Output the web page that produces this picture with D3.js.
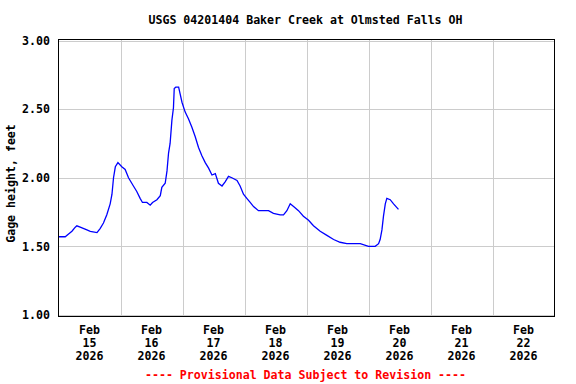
<!DOCTYPE html>
<html>
<head>
<meta charset="utf-8">
<script src="https://cdn.jsdelivr.net/npm/d3@7"></script>
<style>
  body { margin: 0; background: #fff; }
  text { font-family: "DejaVu Sans Mono", "Liberation Mono", monospace; font-weight: bold; }
</style>
</head>
<body>
<svg id="chart"></svg>
<script>
// hours since Feb 15 2026 00:00 and gage height (ft)
const hours = [0, 2.6, 3.9, 5.2, 6.5, 7.1, 8.4, 11.0, 12.3, 14.9, 16.1, 17.4, 18.7, 20.0, 20.7,
  21.3, 22.0, 23.0, 24.5, 25.8, 27.1, 29.0, 30.3, 31.6, 32.5, 34.2, 35.5, 36.4, 38.1, 39.4,
  40.0, 41.3, 42.0, 42.6, 43.2, 43.9, 44.5, 44.8, 45.4, 46.5, 47.1, 47.8, 49.0, 50.3, 51.6,
  52.9, 54.2, 55.5, 56.8, 58.1, 59.4, 60.7, 61.9, 63.3, 64.5, 65.8, 67.1, 69.1, 70.3, 71.6,
  72.9, 74.2, 75.5, 77.4, 79.4, 81.3, 83.2, 85.8, 87.1, 88.4, 89.7, 91.0, 92.9, 94.8, 96.8,
  98.7, 101.3, 103.9, 106.5, 109.0, 111.6, 116.8, 120.0, 122.6, 123.9, 124.5, 125.2, 125.8,
  126.5, 127.1, 128.4, 129.7, 131.6]
const gageFt = [1.57, 1.57, 1.59, 1.61, 1.64, 1.65, 1.64, 1.62, 1.61, 1.60, 1.63, 1.67, 1.73, 1.81, 1.88,
  2.00, 2.08, 2.11, 2.08, 2.06, 2.00, 1.94, 1.90, 1.85, 1.82, 1.82, 1.80, 1.82, 1.84, 1.87,
  1.93, 1.96, 2.05, 2.18, 2.25, 2.42, 2.51, 2.65, 2.66, 2.66, 2.61, 2.55, 2.48, 2.43, 2.37,
  2.30, 2.22, 2.16, 2.11, 2.07, 2.02, 2.03, 1.96, 1.94, 1.97, 2.01, 2.00, 1.98, 1.94, 1.88,
  1.85, 1.82, 1.79, 1.76, 1.76, 1.76, 1.74, 1.73, 1.73, 1.76, 1.81, 1.79, 1.76, 1.72, 1.69,
  1.65, 1.61, 1.58, 1.55, 1.53, 1.52, 1.52, 1.50, 1.50, 1.52, 1.55, 1.62, 1.72,
  1.81, 1.85, 1.84, 1.81, 1.77]
const yTicks = [1.0, 1.5, 2.0, 2.5, 3.0]
const dayLabels = [15, 16, 17, 18, 19, 20, 21, 22]

const title = 'USGS 04201404 Baker Creek at Olmsted Falls OH'
const yTitle = 'Gage height, feet'
const footer = '---- Provisional Data Subject to Revision ----'

const w = 576
const h = 384
const box = { left: 58, right: 554, top: 39, bottom: 316 }

const start = new Date(2026, 1, 15)
const end = new Date(2026, 1, 23)
const data = hours.map((hr, i) => ({ date: new Date(start.getTime() + hr * 3600e3), value: gageFt[i] }))

const svg = d3.select('#chart')
  .attr('width', w)
  .attr('height', h)

const xScale = d3.scaleTime()
  .domain([start, end])
  .range([box.left + 0.5, box.right + 0.5])

const yScale = d3.scaleLinear()
  .domain([1, 3])
  .range([315, 40.5])

// plot background
svg.append('rect')
  .attr('x', box.left + 0.5).attr('y', box.top + 0.5)
  .attr('width', box.right - box.left).attr('height', box.bottom - box.top)
  .attr('fill', '#fff')

// gridlines
const grid = svg.append('g').attr('stroke', '#cccccc').attr('stroke-width', 1)
grid.selectAll('.hg').data(yTicks).join('line')
  .attr('x1', box.left).attr('x2', box.right)
  .attr('y1', d => Math.round(yScale(d)) + 0.5).attr('y2', d => Math.round(yScale(d)) + 0.5)
grid.selectAll('.vg').data(d3.timeDay.range(d3.timeDay.offset(start, 1), end)).join('line')
  .attr('x1', d => Math.round(xScale(d)) + 0.5).attr('x2', d => Math.round(xScale(d)) + 0.5)
  .attr('y1', box.top).attr('y2', box.bottom)

// data line
const line = d3.line()
  .x(d => xScale(d.date))
  .y(d => yScale(d.value))

svg.append('path')
  .datum(data)
  .attr('d', line)
  .attr('fill', 'none')
  .attr('stroke', '#0000ff')
  .attr('stroke-width', 1.3)

// border
svg.append('rect')
  .attr('x', box.left + 0.5).attr('y', box.top + 0.5)
  .attr('width', box.right - box.left).attr('height', box.bottom - box.top)
  .attr('fill', 'none')
  .attr('stroke', '#000')
  .attr('stroke-width', 1)

// y axis labels
const yAxis = d3.axisLeft(yScale)
  .tickValues(yTicks)
  .tickFormat(d3.format('.2f'))
  .tickSize(0)
  .tickPadding(0)
svg.append('g')
  .attr('transform', 'translate(50, 0)')
  .call(yAxis)
  .call(g => g.select('.domain').remove())
  .selectAll('text')
    .attr('font-family', '"DejaVu Sans Mono", monospace')
    .attr('font-weight', 'bold')
    .attr('font-size', 11.6)
    .attr('fill', '#000')

// x axis labels, three lines centered on each day
const xl = svg.append('g')
  .selectAll('text')
  .data(dayLabels)
  .join('text')
    .attr('text-anchor', 'middle')
    .attr('font-size', 11.6)
    .attr('fill', '#000')
xl.each(function (d) {
  const x = xScale(new Date(2026, 1, d, 12))
  const t = d3.select(this)
  ;['Feb', String(d), '2026'].forEach((s, i) => {
    t.append('tspan').attr('x', x).attr('y', 334 + i * 13).text(s)
  })
})

// titles
svg.append('text')
  .attr('x', 305.5).attr('y', 24)
  .attr('text-anchor', 'middle')
  .attr('font-size', 11.6)
  .text(title)

svg.append('text')
  .attr('transform', 'translate(15, 183.5) rotate(-90)')
  .attr('text-anchor', 'middle')
  .attr('font-size', 11.6)
  .text(yTitle)

svg.append('text')
  .attr('x', 305.5).attr('y', 379)
  .attr('text-anchor', 'middle')
  .attr('font-size', 11.6)
  .attr('fill', '#ff0000')
  .text(footer)
</script>
</body>
</html>
